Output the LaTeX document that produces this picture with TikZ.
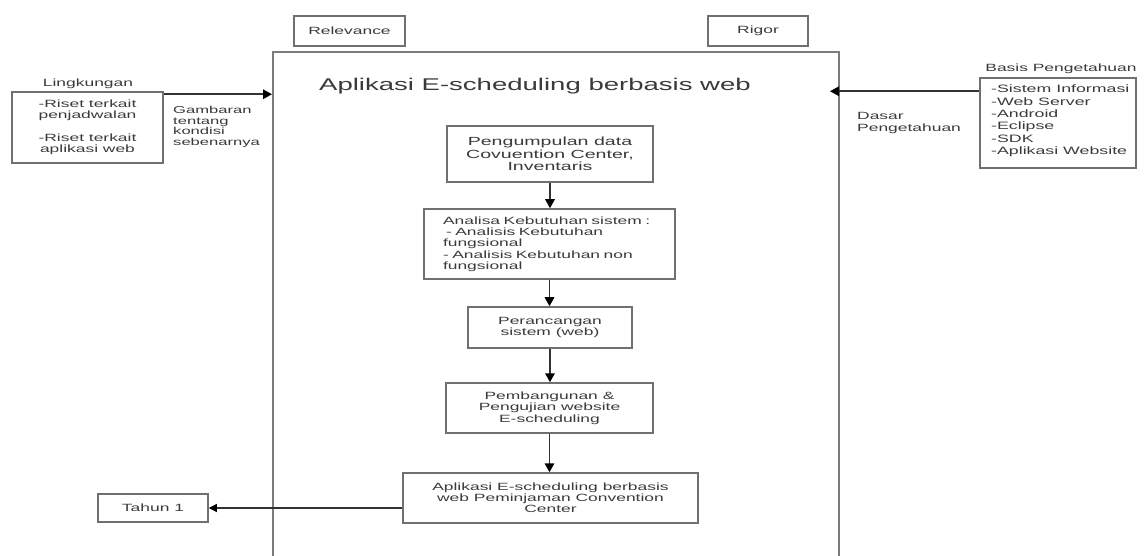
\documentclass[tikz,border=0pt]{standalone}
\usepackage{fontspec}
\setmainfont{Liberation Sans}[FakeStretch=1.66]
\newfontfamily\titlefont{Liberation Sans}[FakeStretch=1.62]
\usetikzlibrary{arrows.meta}
\definecolor{txt}{HTML}{3A3A3A}
\definecolor{brd}{HTML}{707070}
\definecolor{framec}{HTML}{7C7C7C}
\tikzset{
  basetext/.style={text=txt, inner sep=0pt},
  sfont/.style={font=\fontsize{10.5}{11.3}\selectfont},
  box/.style={basetext, draw=brd, line width=1.5pt, rectangle, align=center, sfont},
  plain/.style={basetext, sfont},
  framebox/.style={draw=framec, line width=2pt, rectangle, inner sep=0pt},
  link/.style={draw=black!80, line width=1.5pt, -{Triangle[length=9pt,width=9.5pt,color=black]}},
  smalllink/.style={draw=black!80, line width=1.1pt, -{Triangle[length=8pt,width=8pt,color=black]}}
}
\begin{document}
\begin{tikzpicture}[x=1pt,y=-1pt]
\useasboundingbox (0,0) rectangle (1144,556);
\clip (0,0) rectangle (1144,556);
% main frame
\node[framebox, minimum width=566pt, minimum height=556pt] (main) at (556,330) {};
% header boxes
\node[box, minimum width=111pt, minimum height=30pt] (rel) at (349.5,31) {Relevance};
\node[box, minimum width=100pt, minimum height=30pt] (rig) at (758,31) {Rigor};
\node[plain, font=\titlefont\fontsize{17}{20}\selectfont, anchor=base] (title) at (535,91) {Aplikasi E-scheduling berbasis web};
% Lingkungan
\node[plain, anchor=base] (lkl) at (88,87) {Lingkungan};
\node[box, minimum width=151pt, minimum height=71pt] (lk) at (87.5,127.5)
  {-Riset terkait\\penjadwalan\hspace*{20pt}\\[11.3pt]-Riset terkait\\aplikasi web};
\node[plain, align=left, anchor=west, font=\fontsize{10}{10.5}\selectfont] (gam) at (173,127)
  {Gambaran\\tentang\\kondisi\\sebenarnya};
% Basis Pengetahuan
\node[plain, anchor=base] (bsl) at (1061,71.7) {Basis Pengetahuan};
\node[box, minimum width=156pt, minimum height=90pt] (bs) at (1058,123) {};
\node[plain, align=left, anchor=west, font=\fontsize{10.7}{12.4}\selectfont] (bst) at (991,121)
  {-Sistem Informasi\\-Web Server\\-Android\\-Eclipse\\-SDK\\-Aplikasi Website};
\node[plain, align=left, anchor=west, font=\fontsize{10.5}{11.7}\selectfont] (das) at (857,123.2)
  {Dasar\\Pengetahuan};
% flow
\node[box, minimum width=206pt, minimum height=56pt, font=\fontsize{11.8}{12.4}\selectfont] (p1) at (550,154)
  {Pengumpulan data\\Covuention Center,\\Inventaris};
\node[box, minimum width=251pt, minimum height=70pt, align=left, text width=213pt, inner xsep=19pt] (p2) at (549.5,244)
  {Analisa Kebutuhan sistem :\\\hspace*{3pt}- Analisis Kebutuhan\\fungsional\\- Analisis Kebutuhan non\\fungsional};
\node[box, minimum width=164pt, minimum height=41pt] (p3) at (550,327.5)
  {Perancangan\\sistem (web)};
\node[box, minimum width=207pt, minimum height=50pt] (p4) at (549.5,408)
  {Pembangunan \&\\Pengujian website\\E-scheduling};
\node[box, minimum width=295pt, minimum height=50pt, font=\fontsize{10.5}{10.8}\selectfont] (p5) at (550.5,498)
  {Aplikasi E-scheduling berbasis\\web Peminjaman Convention\\Center};
\node[box, minimum width=110pt, minimum height=28pt] (tahun) at (153,508) {Tahun 1};
% connectors
\draw[link] (p1.south) -- (p1.south |- p2.north);
\draw[link] (p2.south) -- (p2.south |- p3.north);
\draw[link] (p3.south) -- (p3.south |- p4.north);
\draw[link] (p4.south) -- (p4.south |- p5.north);
\coordinate (lka) at ([yshift=-3pt]lk.north east);
\draw[link] (lka) -- (lka -| main.west);
\coordinate (bsa) at ([yshift=-14pt]bs.north west);
\coordinate (me) at (bsa -| main.east);
\draw[link] (bsa) -- ([xshift=-10pt]me);
\draw[smalllink] (p5.west |- tahun.east) -- (tahun.east);
\end{tikzpicture}
\end{document}
